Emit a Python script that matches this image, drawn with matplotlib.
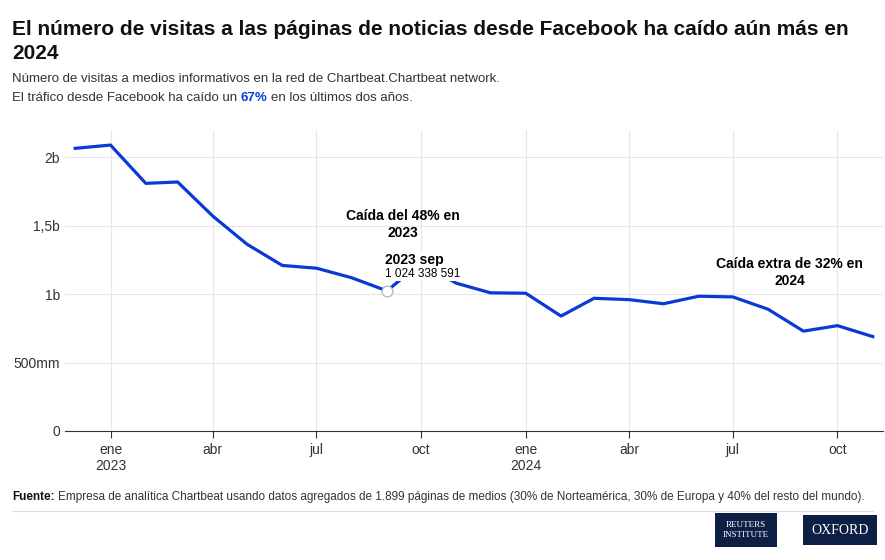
import matplotlib.pyplot as plt
import matplotlib.dates as mdates
import numpy as np
from datetime import date, timedelta

plt.rcParams['font.family'] = ['Liberation Sans', 'DejaVu Sans']

months = [date(2022, 12, 1)] + [date(2023, m, 1) for m in range(1, 13)] + [date(2024, m, 1) for m in range(1, 12)]
visits = [2.066, 2.09, 1.81, 1.82, 1.57, 1.365, 1.21, 1.19, 1.12, 1.024338591, 1.23, 1.08,
          1.01, 1.007, 0.84, 0.97, 0.96, 0.93, 0.985, 0.98, 0.89, 0.73, 0.77, 0.69]
y_ticks = [0, 0.5, 1, 1.5, 2]
y_labels = ["0", "500mm", "1b", "1,5b", "2b"]
x_ticks = [date(2023, 1, 1), date(2023, 4, 1), date(2023, 7, 1), date(2023, 10, 1),
           date(2024, 1, 1), date(2024, 4, 1), date(2024, 7, 1), date(2024, 10, 1)]
x_labels = ["ene\n2023", "abr", "jul", "oct", "ene\n2024", "abr", "jul", "oct"]

fig = plt.figure(figsize=(8.85, 5.6), dpi=100)
ax = fig.add_axes([65 / 885, (560 - 431) / 560, (883 - 65) / 885, (431 - 130) / 560])

x = mdates.date2num(months)
ax.plot(x, visits, color="#0a3ad6", lw=2.3, zorder=3)
ax.set_xlim(mdates.date2num(date(2022, 12, 1) - timedelta(days=9)),
            mdates.date2num(date(2024, 11, 1) + timedelta(days=9)))
ax.set_ylim(0, 2.2)
ax.set_yticks(y_ticks)
ax.set_yticklabels(y_labels)
ax.set_xticks(mdates.date2num(x_ticks))
ax.set_xticklabels(x_labels)
ax.grid(color="#e6e6e6", lw=0.8)
ax.set_axisbelow(True)
for s in ["top", "right", "left"]:
    ax.spines[s].set_visible(False)
ax.spines["bottom"].set_color("#333333")
ax.tick_params(axis="y", length=0, labelsize=10, colors="#333333")
ax.tick_params(axis="x", length=5, labelsize=10, colors="#333333")

# tooltip
sx, sy = x[9], visits[9]
ax.scatter([sx], [sy], s=60, facecolor="white", edgecolor="#bbbbbb", zorder=4)
ax.text(sx - 2, sy + 0.175, "2023 sep", fontsize=10, fontweight="bold", ha="left", va="bottom",
        bbox=dict(facecolor="white", edgecolor="none", pad=1), zorder=5)
ax.text(sx - 2, sy + 0.08, "1 024 338 591", fontsize=8.5, ha="left", va="bottom",
        bbox=dict(facecolor="white", edgecolor="none", pad=1), zorder=5)

ax.text(mdates.date2num(date(2023, 9, 15)), 1.51, "Caída del 48% en\n2023", fontsize=10,
        fontweight="bold", ha="center", va="center", linespacing=1.3)
ax.text(mdates.date2num(date(2024, 8, 20)), 1.16, "Caída extra de 32% en\n2024", fontsize=10,
        fontweight="bold", ha="center", va="center", linespacing=1.3)

fig.text(12 / 885, 1 - 20 / 560, "El número de visitas a las páginas de noticias desde Facebook ha caído aún más en\n2024",
         fontsize=15, fontweight="bold", va="top", linespacing=1.35, color="#111111")
fig.text(12 / 885, 1 - 73 / 560, "Número de visitas a medios informativos en la red de Chartbeat.Chartbeat network.",
         fontsize=9.5, va="top", color="#333333")
t1 = fig.text(12 / 885, 1 - 92 / 560, "El tráfico desde Facebook ha caído un ", fontsize=9.5, va="top", color="#333333")
fig.canvas.draw()
bb = t1.get_window_extent()
t2 = fig.text(bb.x1 / 885, 1 - 92 / 560, "67%", fontsize=9.5, va="top", color="#0a3ad6", fontweight="bold")
bb2 = t2.get_window_extent()
fig.text(bb2.x1 / 885 + 0.004, 1 - 92 / 560, "en los últimos dos años.", fontsize=9.5, va="top", color="#333333")

f1 = fig.text(12 / 885, 1 - 491 / 560, "Fuente:", fontsize=8.5, fontweight="bold", va="top", color="#111111")
fig.canvas.draw()
bf = f1.get_window_extent()
fig.text(bf.x1 / 885 + 0.004, 1 - 491 / 560,
         "Empresa de analítica Chartbeat usando datos agregados de 1.899 páginas de medios (30% de Norteamérica, 30% de Europa y 40% del resto del mundo).",
         fontsize=8.5, va="top", color="#333333")
fig.add_artist(plt.Line2D([12 / 885, 873 / 885], [1 - 511 / 560] * 2, color="#dddddd", lw=0.8))

fig.text(746 / 885, 1 - 530 / 560, "REUTERS\nINSTITUTE", fontsize=6.5, color="white", ha="center", va="center",
         family="Liberation Serif", bbox=dict(facecolor="#0d1f44", edgecolor="none", boxstyle="square,pad=0.9"))
fig.text(840 / 885, 1 - 530 / 560, "OXFORD", fontsize=10, color="white", ha="center", va="center",
         family="Liberation Serif", bbox=dict(facecolor="#0d1f44", edgecolor="none", boxstyle="square,pad=0.6"))

fig.savefig("out.png", dpi=100, facecolor="white")
